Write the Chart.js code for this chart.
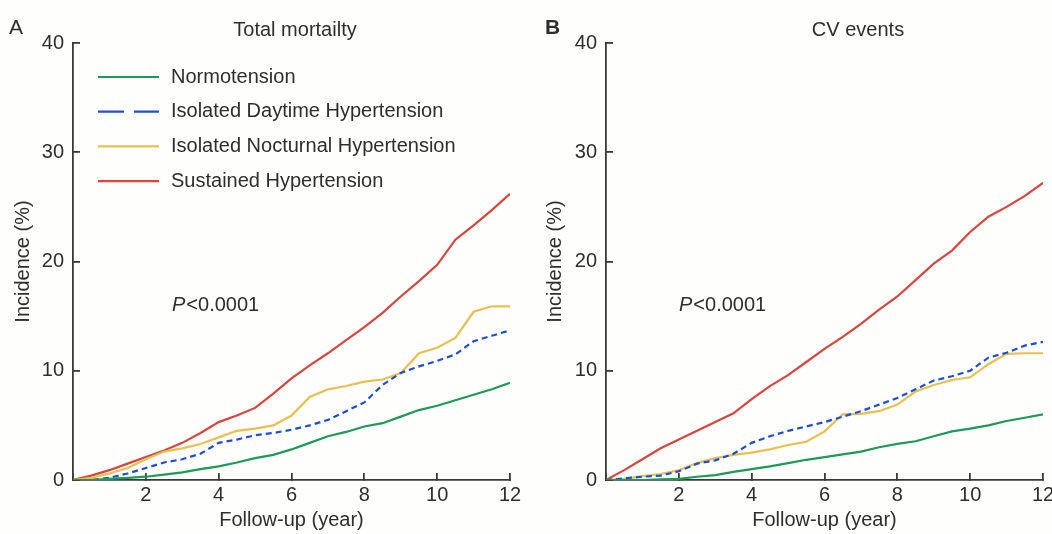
<!DOCTYPE html>
<html>
<head>
<meta charset="utf-8">
<script src="https://cdn.jsdelivr.net/npm/chart.js@4.4.1/dist/chart.umd.min.js"></script>
<style>
  html, body { margin: 0; padding: 0; background: #fefefc; }
  #wrap { position: relative; width: 1052px; height: 534px; }
  .panel { position: absolute; top: 0; width: 526px; height: 534px; }
  #panelA { left: 0; }
  #panelB { left: 526px; }
</style>
</head>
<body>
<div id="wrap">
  <div class="panel" id="panelA"><canvas id="chartA"></canvas></div>
  <div class="panel" id="panelB"><canvas id="chartB"></canvas></div>
</div>
<script>
// follow-up time (years)
const years = [0, 0.5, 1, 1.5, 2, 2.5, 3, 3.5, 4, 4.5, 5, 5.5, 6, 6.5, 7, 7.5, 8, 8.5, 9, 9.5, 10, 10.5, 11, 11.5, 12];
const xTicks = [0, 2, 4, 6, 8, 10, 12];
const yTicks = [0, 10, 20, 30, 40];

const groupNames = ['Normotension', 'Isolated Daytime Hypertension', 'Isolated Nocturnal Hypertension', 'Sustained Hypertension'];

// A: total mortality, cumulative incidence (%)
const mortNormo = [0, 0, 0.1, 0.2, 0.3, 0.5, 0.7, 1.0, 1.25, 1.6, 2.0, 2.3, 2.8, 3.4, 4.0, 4.4, 4.9, 5.2, 5.8, 6.4, 6.8, 7.3, 7.8, 8.3, 8.9];
const mortDay = [0, 0, 0.2, 0.6, 1.1, 1.6, 1.9, 2.4, 3.4, 3.7, 4.1, 4.3, 4.6, 5.0, 5.5, 6.3, 7.1, 8.7, 9.8, 10.4, 10.9, 11.5, 12.7, 13.2, 13.7];
const mortNight = [0, 0.2, 0.6, 1.1, 1.9, 2.6, 2.9, 3.3, 3.9, 4.5, 4.7, 5.0, 5.9, 7.6, 8.3, 8.6, 9.0, 9.2, 9.8, 11.6, 12.1, 13.0, 15.4, 15.9, 15.9];
const mortSust = [0, 0.4, 0.9, 1.5, 2.1, 2.7, 3.4, 4.3, 5.3, 5.9, 6.6, 7.9, 9.3, 10.5, 11.6, 12.8, 14.0, 15.3, 16.8, 18.2, 19.7, 22.0, 23.3, 24.7, 26.2];

// B: CV events, cumulative incidence (%)
const cvNormo = [0, 0, 0, 0.05, 0.1, 0.3, 0.45, 0.75, 1.0, 1.25, 1.55, 1.85, 2.1, 2.35, 2.6, 3.0, 3.3, 3.55, 4.0, 4.45, 4.7, 5.0, 5.4, 5.7, 6.0];
const cvDay = [0, 0.15, 0.3, 0.4, 0.8, 1.5, 1.8, 2.4, 3.4, 4.0, 4.5, 4.9, 5.3, 5.8, 6.3, 6.9, 7.5, 8.3, 9.1, 9.5, 10.0, 11.2, 11.65, 12.3, 12.65];
const cvNight = [0, 0.1, 0.35, 0.55, 0.9, 1.55, 2.0, 2.3, 2.5, 2.8, 3.2, 3.5, 4.45, 6.0, 6.05, 6.3, 6.9, 8.1, 8.7, 9.15, 9.4, 10.6, 11.55, 11.6, 11.6];
const cvSust = [0, 0.9, 1.9, 2.9, 3.7, 4.5, 5.3, 6.1, 7.4, 8.6, 9.6, 10.8, 12.0, 13.1, 14.3, 15.6, 16.8, 18.3, 19.8, 21.0, 22.7, 24.1, 25.0, 26.0, 27.2];

const FONT = '"Liberation Sans", Arial, Helvetica, sans-serif';
const FS = 20;
const TXT = '#2e2e2e';
const AXIS = '#3a3a3a';
const colors = ['#1e9a57', '#1f4fcf', '#e8bf50', '#d8453f'];
const dashes = [[], [6, 4], [], []];

function toPoints(vals) {
    return vals.map((v, i) => ({ x: years[i], y: v }));
}

const panelText = {
    id: 'panelText',
    afterDraw(chart, args, opts) {
        const ctx = chart.ctx;
        ctx.save();
        ctx.fillStyle = TXT;
        ctx.textBaseline = 'middle';

        // panel letter
        ctx.font = (opts.letterBold ? 'bold ' : '') + '21px ' + FONT;
        ctx.textAlign = 'left';
        ctx.fillText(opts.letter, opts.letterX, 28);

        // title
        ctx.font = FS + 'px ' + FONT;
        ctx.textAlign = 'center';
        ctx.fillText(opts.title, opts.titleX, 30);

        // P value
        ctx.textAlign = 'left';
        ctx.font = 'italic ' + FS + 'px ' + FONT;
        ctx.fillText('P', opts.pX, 305);
        const pw = ctx.measureText('P').width;
        ctx.font = FS + 'px ' + FONT;
        ctx.fillText('<0.0001', opts.pX + pw + 1, 305);

        // legend
        if (opts.legend) {
            chart.data.datasets.forEach((ds, i) => {
                const y = 77 + i * 34.7;
                ctx.beginPath();
                ctx.strokeStyle = ds.borderColor;
                ctx.lineWidth = 2.2;
                ctx.setLineDash(i === 1 ? [26, 10] : []);
                ctx.moveTo(98, y);
                ctx.lineTo(159, y);
                ctx.stroke();
                ctx.setLineDash([]);
                ctx.fillText(ds.label, 171, y);
            });
        }
        ctx.restore();
    }
};

function makeChart(canvasId, series, cfg) {
    const datasets = series.map((vals, i) => ({
        label: groupNames[i],
        data: toPoints(vals),
        borderColor: colors[i],
        borderWidth: 2.2,
        borderDash: dashes[i],
        pointRadius: 0,
        tension: 0,
        fill: false
    }));

    return new Chart(document.getElementById(canvasId), {
        type: 'line',
        data: { datasets: datasets },
        plugins: [panelText],
        options: {
            responsive: true,
            maintainAspectRatio: false,
            devicePixelRatio: 1,
            animation: false,
            layout: { padding: { left: 0, right: cfg.rightPad, top: 43, bottom: 0 } },
            plugins: {
                legend: { display: false },
                tooltip: { enabled: false },
                panelText: cfg
            },
            scales: {
                x: {
                    type: 'linear',
                    min: 0,
                    max: 12,
                    afterBuildTicks: (s) => { s.ticks = xTicks.map(v => ({ value: v })); },
                    afterFit: (s) => { s.height = 54; s.paddingLeft = 0; s.paddingRight = 0; },
                    border: { display: true, color: AXIS, width: 1.8 },
                    grid: { drawOnChartArea: false, drawTicks: true, tickLength: -7, color: AXIS, lineWidth: 1.8 },
                    ticks: {
                        padding: 10,
                        color: TXT,
                        font: { family: FONT, size: FS },
                        maxRotation: 0,
                        callback: (v) => (v === 0 ? '' : v)
                    },
                    title: {
                        display: true,
                        text: 'Follow-up (year)',
                        color: TXT,
                        font: { family: FONT, size: FS },
                        padding: { top: 0, bottom: 2 }
                    }
                },
                y: {
                    min: 0,
                    max: 40,
                    afterBuildTicks: (s) => { s.ticks = yTicks.map(v => ({ value: v })); },
                    afterFit: (s) => { s.width = cfg.yWidth; s.paddingTop = 0; s.paddingBottom = 0; },
                    border: { display: true, color: AXIS, width: 1.8 },
                    grid: { drawOnChartArea: false, drawTicks: true, tickLength: -7, color: AXIS, lineWidth: 1.8 },
                    ticks: {
                        padding: 16,
                        color: TXT,
                        font: { family: FONT, size: FS }
                    },
                    title: {
                        display: true,
                        text: 'Incidence (%)',
                        color: TXT,
                        font: { family: FONT, size: FS },
                        padding: { top: cfg.yTitlePad, bottom: 0 }
                    }
                }
            }
        }
    });
}

makeChart('chartA', [mortNormo, mortDay, mortNight, mortSust], {
    letter: 'A', letterBold: false, letterX: 9, title: 'Total mortailty', titleX: 295,
    pX: 172, legend: true, yWidth: 73, rightPad: 16, yTitlePad: 11
});

makeChart('chartB', [cvNormo, cvDay, cvNight, cvSust], {
    letter: 'B', letterBold: true, letterX: 19, title: 'CV events', titleX: 332,
    pX: 153, legend: false, yWidth: 80, rightPad: 9, yTitlePad: 17
});
</script>
</body>
</html>
